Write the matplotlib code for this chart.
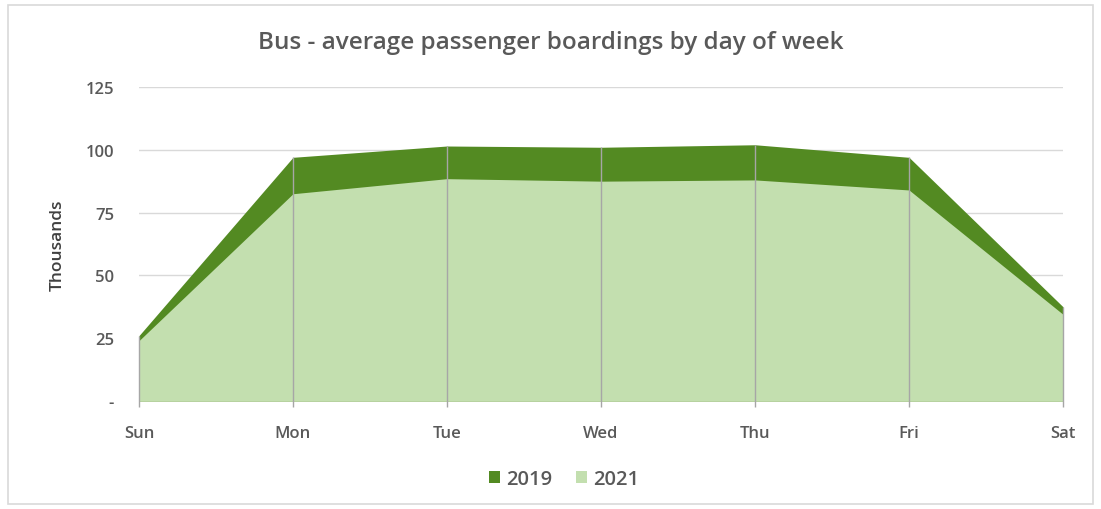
import matplotlib.pyplot as plt
from matplotlib.patches import Rectangle

# ==== Dados ====
dias = ["Sun", "Mon", "Tue", "Wed", "Thu", "Fri", "Sat"]
v2019 = [26, 97, 101.5, 101, 102, 97, 37.5]
v2021 = [24, 82.5, 88.5, 87.5, 88, 84, 34.5]
yticks = [0, 25, 50, 75, 100, 125]
ytick_labels = ["-", "25", "50", "75", "100", "125"]

verde_escuro = "#538A22"
verde_claro = "#C3DFAF"
cinza_texto = "#595959"

plt.rcParams['font.family'] = ['Open Sans', 'DejaVu Sans']

fig = plt.figure(figsize=(11.01, 5.10), dpi=100)
fig.patches.append(Rectangle((0.007, 0.01), 0.986, 0.978, transform=fig.transFigure,
                             fill=False, edgecolor="#D9D9D9", linewidth=1.2))
ax = fig.add_axes([0.1262, 0.2118, 0.8393, 0.6157])

x = list(range(len(dias)))
ax.fill_between(x, v2019, color=verde_escuro, label="2019", zorder=2, linewidth=0)
ax.fill_between(x, v2021, color=verde_claro, label="2021", zorder=3, linewidth=0)
ax.vlines(x, -2.5, v2019, color="#A6A6A6", linewidth=1, zorder=4, clip_on=False)

for t in yticks[1:]:
    ax.axhline(t, color="#D9D9D9", linewidth=1, zorder=1)

ax.set_xlim(0, 6)
ax.set_ylim(0, 125)
ax.set_xticks(x)
ax.set_xticklabels(dias, fontweight="semibold")
ax.set_yticks(yticks)
ax.set_yticklabels(ytick_labels, fontweight="semibold")
ax.tick_params(axis="both", length=0, labelsize=12, labelcolor=cinza_texto)
ax.tick_params(axis="y", pad=18)
ax.tick_params(axis="x", pad=17)
for s in ax.spines.values():
    s.set_visible(False)

ax.set_ylabel("Thousands", fontsize=12.5, color="#404040", labelpad=14,
              fontweight="semibold")
fig.suptitle("Bus - average passenger boardings by day of week", fontsize=17.5,
             color=cinza_texto, y=0.94, fontweight="semibold")

ax.legend(loc="upper center", bbox_to_anchor=(0.46, -0.16), ncol=2, frameon=False,
          prop={"size": 14.5, "weight": "semibold"}, labelcolor=cinza_texto,
          handlelength=0.55, handleheight=0.55, handletextpad=0.3, columnspacing=1.2)

fig.savefig("out.png", dpi=100)
